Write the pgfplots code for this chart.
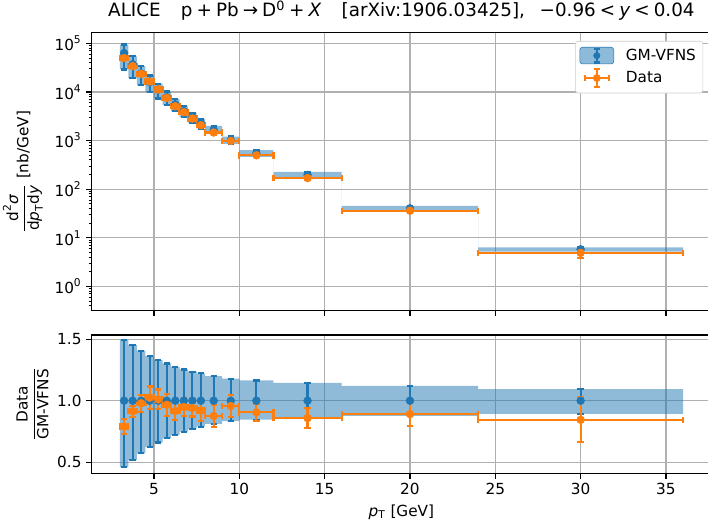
\documentclass[border=0pt]{standalone}
\usepackage{fontspec}
\setmainfont{DejaVu Sans}
\usepackage{amsmath}
\usepackage{pgfplots}
\pgfplotsset{compat=1.18}
\usepackage{pgfplotstable}
\usepgfplotslibrary{fillbetween}
\usetikzlibrary{calc}

\definecolor{c0}{HTML}{1F77B4}
\definecolor{c1}{HTML}{FF7F0E}
\definecolor{gridc}{HTML}{B0B0B0}

% bins: centre, half width, GM-VFNS central, band (ratio) low/high, data, data error
\pgfplotstableread{
x     hw    gm      lo     hi     data    derr
3.25  0.25  63100   0.459  1.493  49800   3780
3.75  0.25  37200   0.518  1.453  34000   1700
4.25  0.25  24100   0.572  1.407  23600   1690
4.75  0.25  16000   0.621  1.363  16400   1440
5.25  0.25  11140   0.659  1.331  11260   890
5.75  0.25  7820    0.694  1.304  7560    703
6.25  0.25  5560    0.721  1.276  5090    417
6.75  0.25  4040    0.748  1.255  3830    303
7.25  0.25  3020    0.770  1.236  2840    210
7.75  0.25  2250    0.789  1.223  2070    191
8.5   0.5   1670    0.811  1.201  1463    146
9.5   0.5   1026    0.833  1.179  982     90
11    1     549     0.846  1.165  497     37
14    2     197     0.857  1.146  169     15.7
20    4     40.4    0.876  1.120  36      3.8
30    6     5.8     0.892  1.095  4.9     1.06
}\bins

% bin edges for the step band
\pgfplotstableread{
x     gm      lo     hi
3.0   63100   0.459  1.493
3.5   37200   0.518  1.453
4.0   24100   0.572  1.407
4.5   16000   0.621  1.363
5.0   11140   0.659  1.331
5.5   7820    0.694  1.304
6.0   5560    0.721  1.276
6.5   4040    0.748  1.255
7.0   3020    0.770  1.236
7.5   2250    0.789  1.223
8.0   1670    0.811  1.201
9.0   1026    0.833  1.179
10.0  549     0.846  1.165
12.0  197     0.857  1.146
16.0  40.4    0.876  1.120
24.0  5.8     0.892  1.095
36.0  5.8     0.892  1.095
}\edges

\pgfplotsset{
  panel/.style={
    scale only axis, width=446pt, xmin=1.35, xmax=37.65,
    axis line style={line width=0.85pt},
    tick align=outside, tick pos=left,
    major tick length=3.8pt, minor tick length=2.2pt,
    tick style={black, line width=0.85pt},
    minor tick style={line width=0.65pt},
    xmajorgrids, ymajorgrids, major grid style={gridc, line width=0.85pt},
    xtick={5,10,...,35},
    tick label style={font=\fontsize{11}{13}\selectfont},
    label style={font=\fontsize{11}{13}\selectfont},
    /pgf/number format/assume math mode=true,
  },
  gmbars/.style={only marks, mark=*, c0, mark size=2.8pt,
    error bars/y dir=both, error bars/y explicit,
    error bars/error bar style={c0, line width=1.6pt},
    error bars/error mark options={rotate=90, c0, mark size=2.3pt, line width=1.6pt}},
  databars/.style={only marks, mark=*, c1, mark size=2.8pt,
    error bars/x dir=both, error bars/x explicit,
    error bars/y dir=both, error bars/y explicit,
    error bars/error bar style={c1, line width=1.6pt},
    error bars/error mark options={rotate=90, c1, mark size=2.3pt, line width=1.6pt}},
}

\newcommand{\op}[1]{\hspace{0.22em}#1\hspace{0.22em}}

\begin{document}
\begin{tikzpicture}
\begin{axis}[panel, name=top, height=200.2pt,
  ymode=log, ymin=0.316, ymax=1.66e5,
  xticklabels={},
  yticklabel={\pgfmathtruncatemacro\ex{round(\tick/2.302585093)}$\text{10}^{\text{\ex}}$},
  ylabel={$\dfrac{\text{d}^{\text{2}}\textit{σ}}{\text{d}\textit{p}_{\text{T}}\text{d}\textit{y}}$ [nb/GeV]},
  ylabel style={at={(axis description cs:-0.111,0.5)}, anchor=center},
  title={ALICE\hspace{1.1em}p\op{+}Pb\op{→}D$^{\text{0}}$\op{+}\textit{X}\hspace{1.1em}[arXiv:1906.03425],\hspace{0.8em}−0.96\op{<}\textit{y}\op{<}0.04},
  title style={font=\fontsize{13.2}{15}\selectfont, yshift=-0.5pt},
  legend style={at={(rel axis cs:1,1)}, anchor=north east, xshift=-5.8pt, yshift=-6pt,
    draw=black!20, rounded corners=2pt, fill=white,
    font=\fontsize{11}{13}\selectfont, cells={anchor=west}, row sep=2pt,
    inner xsep=3pt, inner ysep=3.5pt},
]
\addplot[name path=tu, draw=none, const plot, forget plot] table[x=x, y expr=\thisrow{gm}*\thisrow{hi}] {\edges};
\addplot[name path=tl, draw=none, const plot, forget plot] table[x=x, y expr=\thisrow{gm}*\thisrow{lo}] {\edges};
\addplot[fill=c0, fill opacity=0.5, draw=none, forget plot] fill between[of=tu and tl];

\addplot[forget plot, gmbars] table[x=x, y=gm,
  y error plus expr=\thisrow{gm}*(\thisrow{hi}-1),
  y error minus expr=\thisrow{gm}*(1-\thisrow{lo})] {\bins};
\addplot[forget plot, databars] table[x=x, y=data, x error=hw, y error=derr] {\bins};

\addlegendimage{legend image code/.code={
  \path (0pt,0pt) (31pt,0pt);
  \fill[c0, fill opacity=0.5] (0pt,-6pt) rectangle (24.5pt,6pt);
  \draw[c0, line width=1.6pt] (12.25pt,-5pt)--(12.25pt,5pt);
  \draw[c0, line width=1.6pt] (10pt,-5pt)--(14.5pt,-5pt) (10pt,5pt)--(14.5pt,5pt);
  \fill[c0] (12.25pt,0pt) circle (2.3pt);}}
\addlegendentry{GM-VFNS}
\addlegendimage{legend image code/.code={
  \path (0pt,0pt) (31pt,0pt);
  \draw[c1, line width=1.6pt] (3.5pt,0pt)--(21pt,0pt) (12.25pt,-6.5pt)--(12.25pt,6.5pt);
  \draw[c1, line width=1.6pt] (3.5pt,-2.3pt)--(3.5pt,2.3pt) (21pt,-2.3pt)--(21pt,2.3pt)
    (10pt,-6.5pt)--(14.5pt,-6.5pt) (10pt,6.5pt)--(14.5pt,6.5pt);
  \fill[c1] (12.25pt,0pt) circle (2.6pt);}}
\addlegendentry{Data}
\end{axis}

\begin{axis}[panel, name=bot, height=99.6pt,
  at={($(top.south west)+(0pt,-17.5pt)$)}, anchor=north west,
  ymin=0.408, ymax=1.535, ytick={0.5,1,1.5},
  yticklabel style={/pgf/number format/.cd, fixed, fixed zerofill, precision=1},
  xlabel={\textit{p}$_{\text{T}}$ [GeV]},
  ylabel={$\dfrac{\text{Data}}{\text{GM-VFNS}}$},
  ylabel style={at={(axis description cs:-0.0955,0.5)}, anchor=center},
]
\addplot[name path=ru, draw=none, const plot] table[x=x, y=hi] {\edges};
\addplot[name path=rl, draw=none, const plot] table[x=x, y=lo] {\edges};
\addplot[fill=c0, fill opacity=0.5, draw=none] fill between[of=ru and rl];

\addplot[gmbars] table[x=x, y expr=1,
  y error plus expr=\thisrow{hi}-1,
  y error minus expr=1-\thisrow{lo}] {\bins};
\addplot[databars] table[x=x, y expr=\thisrow{data}/\thisrow{gm}, x error=hw,
  y error expr=\thisrow{derr}/\thisrow{gm}] {\bins};
\end{axis}

\pgfresetboundingbox
\path[use as bounding box] ($(top.north west)+(-66pt,23.5pt)$) rectangle ($(bot.south west)+(443.7pt,-36.5pt)$);
\end{tikzpicture}
\end{document}
